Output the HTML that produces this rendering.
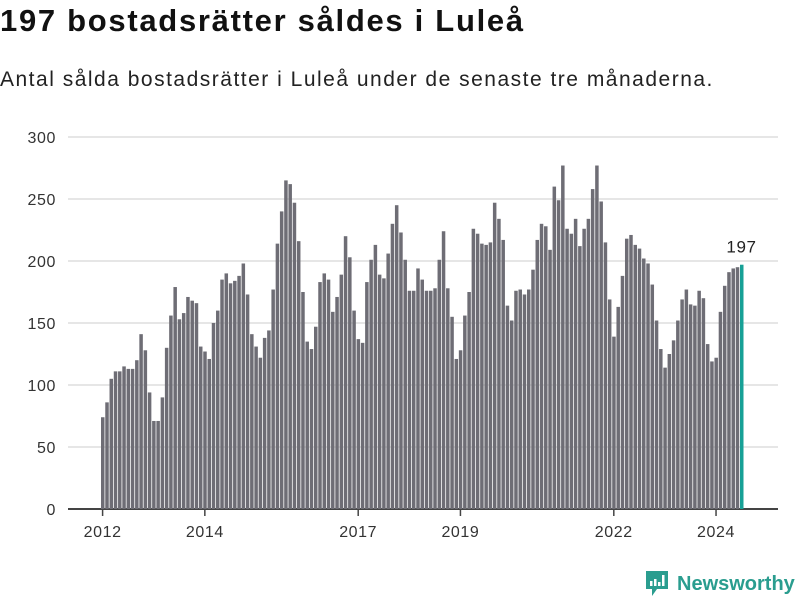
<!DOCTYPE html>
<html><head><meta charset="utf-8"><style>
body{margin:0;width:800px;height:600px;background:#fff;font-family:"Liberation Sans",sans-serif;overflow:hidden;position:relative}
#title{position:absolute;left:0;top:3px;font-size:31px;letter-spacing:1.7px;font-weight:bold;color:#111;white-space:nowrap}
#sub{position:absolute;left:0;top:68px;font-size:21px;letter-spacing:1.5px;color:#222;white-space:nowrap}
svg{position:absolute;left:0;top:0}
</style></head><body>
<div id="title">197 bostadsrätter såldes i Luleå</div>
<div id="sub">Antal sålda bostadsrätter i Luleå under de senaste tre månaderna.</div>
<svg id="chart" width="800" height="600"></svg>
<script>
const values=[74,86,105,111,111,115,113,113,120,141,128,94,
71,71,90,130,156,179,153,158,171,168,166,131,
127,121,150,160,185,190,182,184,188,198,173,141,
131,122,138,144,177,214,240,265,262,247,216,175,
135,129,147,183,190,185,159,171,189,220,203,160,
137,134,183,201,213,189,186,206,230,245,223,201,
176,176,194,185,176,176,178,201,224,178,155,121,
128,156,175,226,222,214,213,215,247,234,217,164,
152,176,177,173,177,193,217,230,228,209,260,249,277,
226,222,234,212,226,234,258,277,
248,215,169,139,163,188,218,221,213,210,202,198,181,152,129,114,125,136,152,169,
177,165,164,176,170,133,119,122,159,180,191,194,195,197];
const yTicks=[0,50,100,150,200,250,300];
const xTickLabels=["2012","2014","2017","2019","2022","2024"];
const xTickIndex=[0,24,60,84,120,144];
const NS="http://www.w3.org/2000/svg";
const svg=document.getElementById('chart');
const y0=509,ppu=1.24;
function yS(v){return y0-v*ppu;}
function xS(i){return 101+i*4.26;}
function mk(t,a){const e=document.createElementNS(NS,t);for(const k in a)e.setAttribute(k,a[k]);svg.appendChild(e);return e;}
yTicks.forEach(t=>{
  const g=mk('line',{x1:68,x2:778,y1:yS(t),y2:yS(t),stroke:t===0?'#444':'#ddd','stroke-width':t===0?2:1.5});
  
  
  const l=mk('text',{x:56,y:yS(t)+6,'text-anchor':'end','font-size':16,'letter-spacing':0.6,fill:'#333','font-family':'Liberation Sans, sans-serif'});
  l.textContent=t;
  
  
});
values.forEach((v,i)=>{
  const last=i===values.length-1;
  const r=mk('rect',{x:xS(i),y:yS(v),width:3.5,height:v*ppu,fill:last?'#17a096':'#6e6d75'});
  
  
});
const lv=values[values.length-1];
const lab=mk('text',{x:xS(values.length-1)+1.5,y:yS(lv)-12,'text-anchor':'middle','font-size':17,'letter-spacing':0.6,fill:'#222','font-family':'Liberation Sans, sans-serif'});
lab.textContent=lv;


xTickIndex.forEach((ix,k)=>{
  const x=xS(ix)+1.6;
  const t=mk('line',{x1:x,x2:x,y1:509,y2:516,stroke:'#444','stroke-width':1.5});
  
  
  const l=mk('text',{x:x,y:537,'text-anchor':'middle','font-size':16,'letter-spacing':0.6,fill:'#333','font-family':'Liberation Sans, sans-serif'});
  l.textContent=xTickLabels[k];
  
  
});
</script>
<div style="position:absolute;left:645px;top:570px;display:flex;align-items:center;gap:8px">
<svg width="24" height="28" viewBox="0 0 24 28" style="position:static"><path d="M1 1h22v18H12l-5 7v-7H1z" fill="#2a9d8f"/><rect x="5" y="11" width="2.5" height="5" fill="#fff"/><rect x="9" y="9" width="2.5" height="7" fill="#fff"/><rect x="13" y="12" width="2.5" height="4" fill="#fff"/><rect x="17" y="5" width="2.5" height="11" fill="#fff"/></svg>
<span style="font-size:20px;font-weight:bold;color:#2a9d8f">Newsworthy</span>
</div>
</body></html>
